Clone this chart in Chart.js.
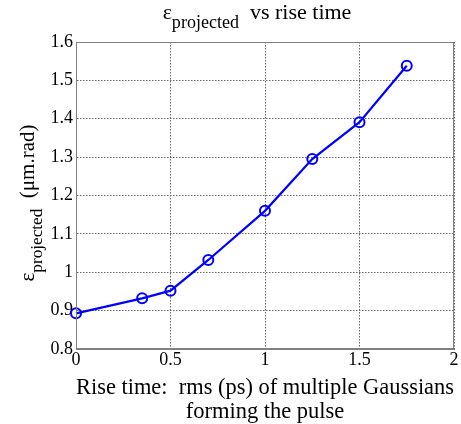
<!DOCTYPE html>
<html>
<head>
<meta charset="utf-8">
<script src="https://cdn.jsdelivr.net/npm/chart.js@4/dist/chart.umd.min.js"></script>
<style>
  html, body { margin: 0; padding: 0; background: #fff; }
  #wrap { width: 461px; height: 424px; }
</style>
</head>
<body>
<div id="wrap"><canvas id="c" width="461" height="424"></canvas></div>
<script>
// данные
const riseTime   = [0, 0.35, 0.5, 0.7, 1.0, 1.25, 1.5, 1.75];
const emittance  = [0.893, 0.932, 0.952, 1.032, 1.160, 1.295, 1.391, 1.538];
const xTicks     = [0, 0.5, 1, 1.5, 2];
const yTicks     = [0.8, 0.9, 1, 1.1, 1.2, 1.3, 1.4, 1.5, 1.6];

const FONT = '"Liberation Serif", "DejaVu Serif", serif';

// подпись с нижним индексом: основа, индекс, хвост
function drawSub(ctx, parts, size) {
    const [base, sub, tail] = parts;
    const subSize = size * 0.82;
    ctx.font = size + 'px ' + FONT;
    const wBase = ctx.measureText(base).width;
    ctx.font = subSize + 'px ' + FONT;
    const wSub = ctx.measureText(sub).width;
    ctx.font = size + 'px ' + FONT;
    const wTail = ctx.measureText(tail).width;
    let x = -(wBase + wSub + wTail) / 2;
    ctx.textAlign = 'left';
    ctx.textBaseline = 'alphabetic';
    ctx.fillText(base, x, 0);
    x += wBase;
    ctx.font = subSize + 'px ' + FONT;
    ctx.fillText(sub, x, size * 0.4);
    x += wSub;
    ctx.font = size + 'px ' + FONT;
    ctx.fillText(tail, x, 0);
}

const labelsPlugin = {
    id: 'labels',
    afterDraw(chart) {
        const ctx = chart.ctx;
        const area = chart.chartArea;
        // заголовок
        ctx.save();
        ctx.fillStyle = '#000';
        ctx.translate(257, 19);
        drawSub(ctx, ['\u03b5', 'projected', '  vs rise time'], 22);
        ctx.restore();

        // подпись оси Y
        ctx.save();
        ctx.fillStyle = '#000';
        ctx.translate(34, 203);
        ctx.rotate(-Math.PI / 2);
        drawSub(ctx, ['\u03b5', 'projected', '  (\u03bcm.rad)'], 21);
        ctx.restore();

        // рамка осей
        ctx.save();
        ctx.strokeStyle = '#808080';
        ctx.lineWidth = 1;
        ctx.strokeRect(area.left + 0.5, area.top + 0.5, area.right - area.left - 1, area.bottom - area.top - 1);
        ctx.restore();
    }
};

new Chart(document.getElementById('c'), {
    type: 'line',
    data: {
        datasets: [{
            data: riseTime.map((x, i) => ({ x, y: emittance[i] })),
            borderColor: '#0000ff',
            backgroundColor: 'rgba(0,0,0,0)',
            borderWidth: 2.2,
            pointStyle: 'circle',
            pointRadius: 5,
            pointBorderWidth: 2,
            pointBorderColor: '#0000ff',
            pointBackgroundColor: 'rgba(0,0,0,0)',
            tension: 0,
            clip: false
        }]
    },
    options: {
        responsive: false,
        animation: false,
        layout: { padding: { top: 42, right: 4, left: 0, bottom: 0 } },
        plugins: {
            legend: { display: false },
            tooltip: { enabled: false }
        },
        scales: {
            x: {
                type: 'linear',
                min: 0,
                max: 2,
                afterBuildTicks(axis) { axis.ticks = xTicks.map(v => ({ value: v })); },
                afterFit(axis) { axis.height = 75; },
                grid: {
                    color: '#666',
                    lineWidth: 1,
                    drawTicks: false
                },
                border: { display: true, color: '#808080', dash: [1.5, 1.5] },
                ticks: {
                    color: '#000',
                    font: { family: FONT, size: 18 },
                    padding: 0,
                    maxRotation: 0,
                    callback: v => String(v)
                },
                title: {
                    display: true,
                    text: ['Rise time:  rms (ps) of multiple Gaussians', 'forming the pulse'],
                    color: '#000',
                    font: { family: FONT, size: 22.5, lineHeight: 1.07 },
                    padding: { top: 0, bottom: 0 }
                }
            },
            y: {
                type: 'linear',
                min: 0.8,
                max: 1.6,
                afterBuildTicks(axis) { axis.ticks = yTicks.map(v => ({ value: v })); },
                afterFit(axis) { axis.width = 76; },
                grid: {
                    color: '#666',
                    lineWidth: 1,
                    drawTicks: false
                },
                border: { display: true, color: '#808080', dash: [1.5, 1.5] },
                ticks: {
                    color: '#000',
                    font: { family: FONT, size: 18 },
                    padding: 3,
                    callback: v => String(Math.round(v * 10) / 10)
                }
            }
        }
    },
    plugins: [labelsPlugin]
});
</script>
</body>
</html>
